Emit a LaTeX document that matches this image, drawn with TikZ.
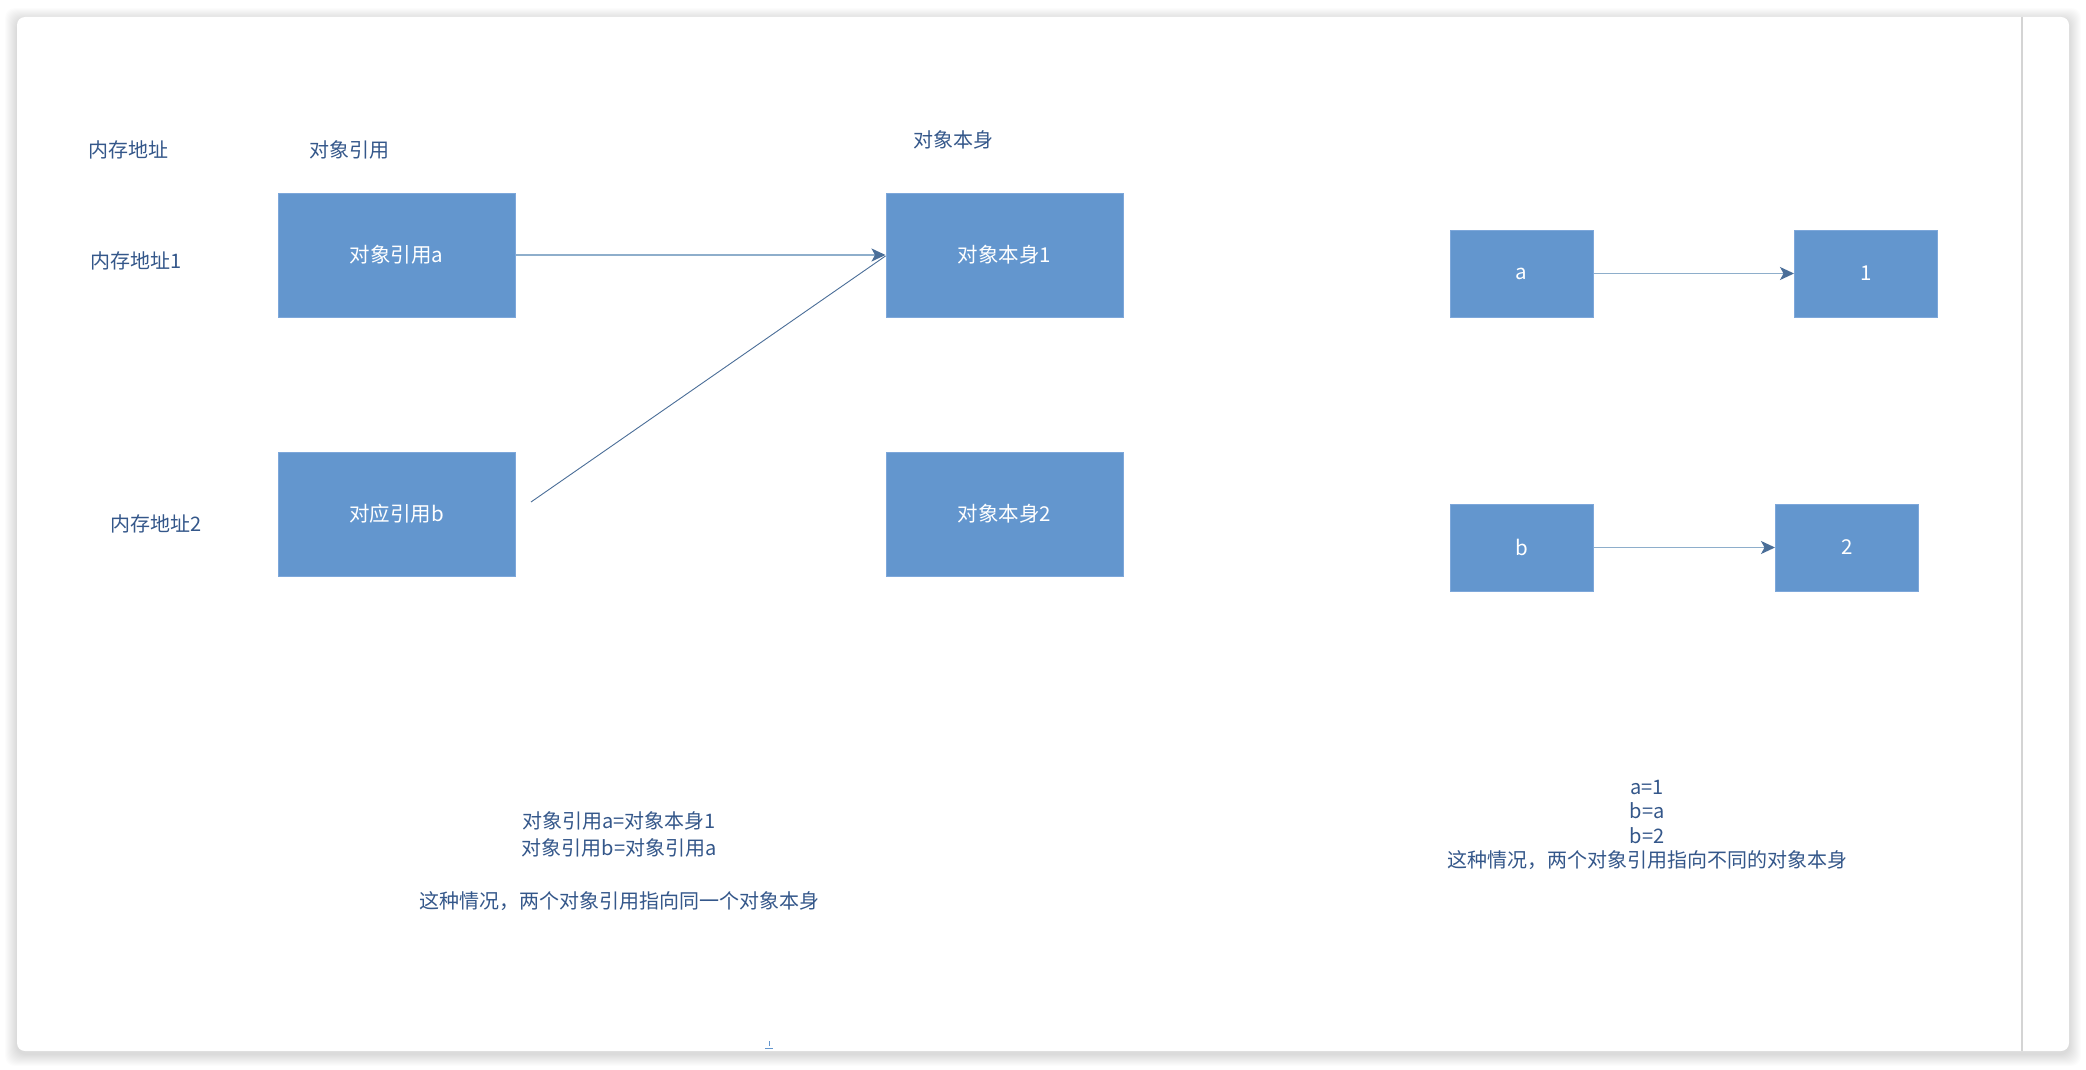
\documentclass[tikz,border=0pt]{standalone}
\usepackage{fontspec}
\setmainfont{Noto Sans CJK SC}
\usetikzlibrary{arrows.meta}
\definecolor{boxfill}{HTML}{6396CE}
\definecolor{boxline}{HTML}{7DA7DA}
\definecolor{txt}{HTML}{34578A}
\definecolor{arrline}{HTML}{8EAECB}
\definecolor{arrhead}{HTML}{4A6E98}
\definecolor{sepline}{HTML}{D4D4D4}
\begin{document}
\begin{tikzpicture}[x=1pt,y=-1pt,
  boxnode/.style={fill=boxfill, draw=boxline, line width=1pt, text=white, inner sep=0pt,
    font=\fontsize{20.5}{24}\selectfont},
  bigbox/.style={boxnode, minimum width=237pt, minimum height=124pt},
  smallbox/.style={boxnode, minimum width=143pt, minimum height=87pt},
  lbl/.style={text=txt, inner sep=0pt, font=\fontsize{20}{24}\selectfont},
  conn/.style={draw=arrline, line width=1.6pt, -{Stealth[length=14pt,width=13pt,inset=3.5pt,color=arrhead]}},
  thinline/.style={draw=arrhead, line width=0.9pt}]
\useasboundingbox (0,0) rectangle (2086,1070);
\fill[white] (0,0) rectangle (2086,1070);
% card shadow
\foreach \i in {1,...,12}{
  \fill[black, opacity=0.012, rounded corners=10pt] (17-\i,17-\i+3) rectangle (2069+\i,1051+\i+3);
}
\fill[white, rounded corners=8pt] (17,17) rectangle (2069,1051);
\draw[sepline, line width=1.2pt] (2022,17) -- (2022,1051);

% headers
\node[lbl] (h1) at (128,150) {内存地址};
\node[lbl] (h2) at (349,150) {对象引用};
\node[lbl] (h3) at (953,140) {对象本身};
\node[lbl] (m1) at (136,261) {内存地址1};
\node[lbl] (m2) at (156,524) {内存地址2};

% left boxes
\node[bigbox] (ra) at (396.5,255) {对象引用a};
\node[bigbox] (rb) at (396.5,514) {对应引用b};
\node[bigbox] (o1) at (1004.5,255) {对象本身1};
\node[bigbox] (o2) at (1004.5,514) {对象本身2};

\coordinate (bstart) at (531,502);
\draw[thinline] (bstart) -- ([yshift=-1pt]o1.west);
\draw[conn] (ra.east) -- (o1.west);

% right boxes
\node[smallbox] (va) at (1521.5,273.5) {a};
\node[smallbox] (v1) at (1866,273.5) {1};
\node[smallbox] (vb) at (1521.5,547.5) {b};
\node[smallbox] (v2) at (1847,547.5) {2};
\draw[conn] (va.east) -- (v1.west);
\draw[conn] (vb.east) -- (v2.west);

% notes
\node[lbl, align=center, font=\fontsize{20}{26.5}\selectfont] (n1) at (619,861)
  {对象引用a=对象本身1\\对象引用b=对象引用a\\[26.5pt]这种情况，两个对象引用指向同一个对象本身};
\node[lbl, align=center, font=\fontsize{20}{24.6}\selectfont] (n2) at (1647,825)
  {a=1\\b=a\\b=2\\这种情况，两个对象引用指向不同的对象本身};

% tiny mark at bottom
\draw[boxfill, line width=0.8pt] (769,1041) -- (769,1046);
\draw[boxfill, line width=0.8pt] (765,1048.5) -- (773,1048.5);
\end{tikzpicture}
\end{document}
